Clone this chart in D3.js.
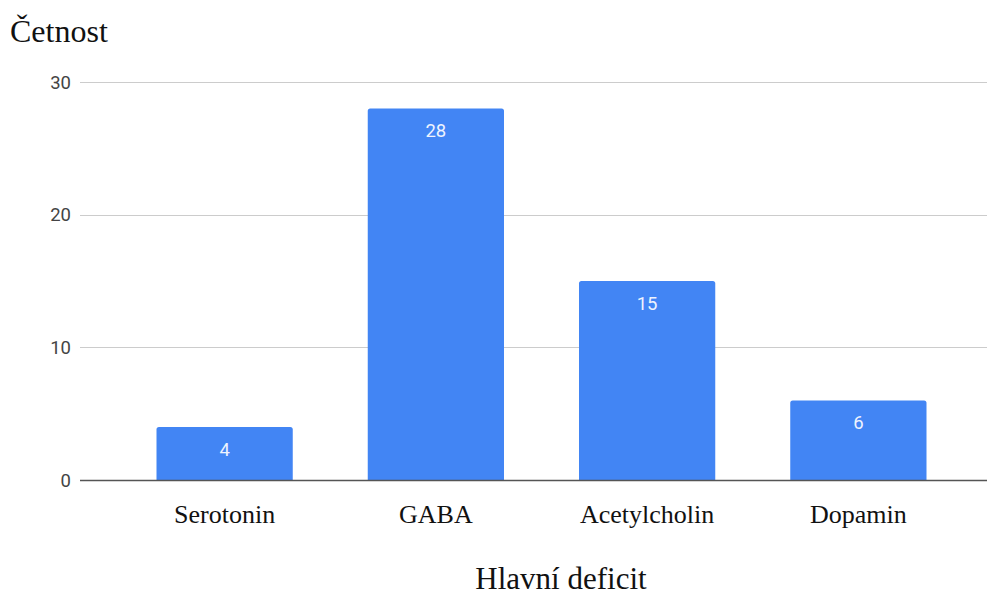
<!DOCTYPE html>
<html>
<head>
<meta charset="utf-8">
<script src="https://cdn.jsdelivr.net/npm/d3@7"></script>
<style>
  html, body { margin: 0; padding: 0; background: #ffffff; }
  svg { display: block; }
</style>
</head>
<body>
<svg id="chart" width="987" height="596"></svg>
<script>
// Chart data
const categories = ["Serotonin", "GABA", "Acetylcholin", "Dopamin"];
const counts = [4, 28, 15, 6];
const yTicks = [0, 10, 20, 30];
const yTitle = "Četnost";
const xTitle = "Hlavní deficit";

const svg = d3.select("#chart");

const plot = { left: 80, right: 987, top: 82, bottom: 480 };
const serif = "'Liberation Serif', 'Times New Roman', serif";
const sans = "Roboto, Arial, sans-serif";

const y = d3.scaleLinear().domain([0, 30]).range([plot.bottom, plot.top]);
const x = d3.scaleBand()
  .domain(categories)
  .range([119, 964])
  .paddingInner(0.355)
  .paddingOuter(0.1775);

// Horizontal gridlines
svg.append("g")
  .selectAll("line")
  .data(yTicks.filter(t => t !== 0))
  .join("line")
  .attr("x1", plot.left)
  .attr("x2", plot.right)
  .attr("y1", d => Math.round(y(d)) + 0.5)
  .attr("y2", d => Math.round(y(d)) + 0.5)
  .attr("stroke", "#cccccc")
  .attr("stroke-width", 1);

// Y tick labels
svg.append("g")
  .selectAll("text")
  .data(yTicks)
  .join("text")
  .attr("x", 71)
  .attr("y", d => y(d))
  .attr("dy", "0.36em")
  .attr("text-anchor", "end")
  .attr("font-family", sans)
  .attr("font-size", 18.5)
  .attr("fill", "#444444")
  .text(d => d);

// Bars with slightly rounded top corners
const r = 2.5;
function barPath(x0, w, yTop, yBase) {
  return `M${x0},${yBase}V${yTop + r}Q${x0},${yTop} ${x0 + r},${yTop}` +
         `H${x0 + w - r}Q${x0 + w},${yTop} ${x0 + w},${yTop + r}V${yBase}Z`;
}

const data = categories.map((c, i) => ({ c, v: counts[i] }));

svg.append("g")
  .selectAll("path")
  .data(data)
  .join("path")
  .attr("d", d => barPath(x(d.c), x.bandwidth(), y(d.v), y(0)))
  .attr("fill", "#4285f4");

// Value labels inside bars
svg.append("g")
  .selectAll("text")
  .data(data)
  .join("text")
  .attr("x", d => x(d.c) + x.bandwidth() / 2)
  .attr("y", d => y(d.v) + 22)
  .attr("dy", "0.36em")
  .attr("text-anchor", "middle")
  .attr("font-family", sans)
  .attr("font-size", 18.5)
  .attr("fill", "#eef3fe")
  .text(d => d.v);

// Baseline
svg.append("line")
  .attr("x1", plot.left)
  .attr("x2", plot.right)
  .attr("y1", y(0) + 0.5)
  .attr("y2", y(0) + 0.5)
  .attr("stroke", "#555555")
  .attr("stroke-width", 1.5);

// Category labels
svg.append("g")
  .selectAll("text")
  .data(categories)
  .join("text")
  .attr("x", d => x(d) + x.bandwidth() / 2)
  .attr("y", 523)
  .attr("text-anchor", "middle")
  .attr("font-family", serif)
  .attr("font-size", 26)
  .attr("fill", "#111111")
  .text(d => d);

// Axis titles
svg.append("text")
  .attr("x", 10)
  .attr("y", 42)
  .attr("font-family", serif)
  .attr("font-size", 32)
  .attr("fill", "#111111")
  .text(yTitle);

svg.append("text")
  .attr("x", 561)
  .attr("y", 589)
  .attr("text-anchor", "middle")
  .attr("font-family", serif)
  .attr("font-size", 31)
  .attr("fill", "#111111")
  .text(xTitle);
</script>
</body>
</html>
